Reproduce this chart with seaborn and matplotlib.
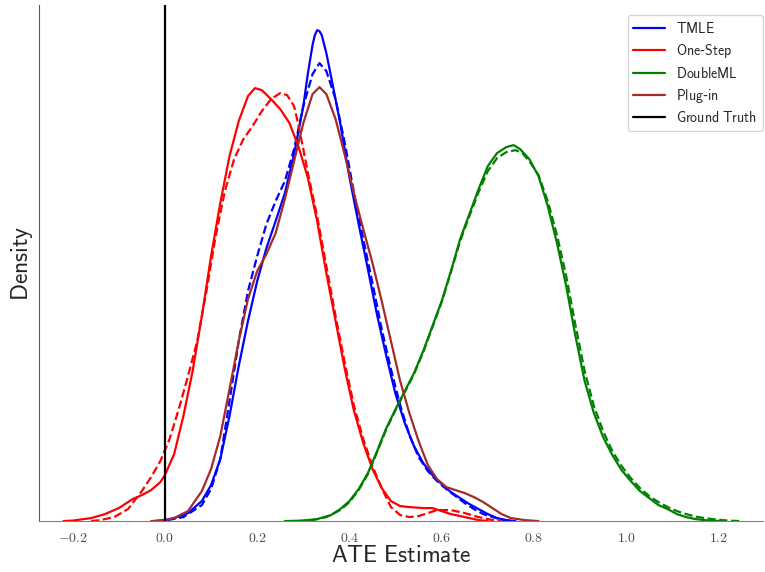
import numpy as np
import matplotlib
matplotlib.use('Agg')
import matplotlib.pyplot as plt
import seaborn as sns
from matplotlib.ticker import FuncFormatter

sns.set_style('white')
plt.rcParams['mathtext.fontset'] = 'cm'
plt.rcParams['font.family'] = ['DejaVu Sans']

# density curves (solid and dashed variant per estimator)
tmle_x = [-0.02, 0.0, 0.02, 0.05, 0.08, 0.10, 0.12, 0.14, 0.16, 0.18, 0.20, 0.22, 0.24, 0.26, 0.28,
          0.30, 0.31, 0.32, 0.325, 0.33, 0.335, 0.34, 0.35, 0.36, 0.38, 0.40, 0.42, 0.44, 0.46, 0.48,
          0.50, 0.52, 0.54, 0.56, 0.58, 0.60, 0.62, 0.64, 0.66, 0.68, 0.70, 0.72, 0.74, 0.76]
tmle_y = [0.0, 0.01, 0.03, 0.08, 0.2, 0.36, 0.62, 1.05, 1.55, 2.0, 2.4, 2.73, 3.0, 3.28, 3.67,
          4.15, 4.48, 4.76, 4.86, 4.91, 4.9, 4.86, 4.68, 4.45, 3.98, 3.44, 2.97, 2.52, 2.06, 1.65,
          1.27, 0.98, 0.75, 0.58, 0.46, 0.37, 0.29, 0.23, 0.17, 0.12, 0.07, 0.03, 0.01, 0.0]
tmle2_x = [-0.02, 0.0, 0.04, 0.08, 0.10, 0.12, 0.14, 0.16, 0.18, 0.20, 0.22, 0.24, 0.26, 0.28, 0.30,
           0.32, 0.335, 0.35, 0.37, 0.39, 0.41, 0.43, 0.45, 0.47, 0.49, 0.51, 0.53, 0.55, 0.57, 0.59,
           0.61, 0.63, 0.65, 0.67, 0.69, 0.71, 0.73, 0.75]
tmle2_y = [0.0, 0.005, 0.04, 0.16, 0.32, 0.62, 1.2, 1.8, 2.3, 2.65, 2.97, 3.2, 3.4, 3.72, 4.15,
           4.47, 4.58, 4.5, 4.22, 3.78, 3.28, 2.82, 2.38, 1.92, 1.52, 1.16, 0.86, 0.64, 0.5, 0.4,
           0.32, 0.25, 0.18, 0.12, 0.07, 0.04, 0.015, 0.0]

onestep_x = [-0.22, -0.20, -0.16, -0.13, -0.10, -0.07, -0.05, -0.03, -0.01, 0.0, 0.02, 0.04, 0.06,
             0.08, 0.10, 0.12, 0.14, 0.16, 0.18, 0.195, 0.21, 0.23, 0.25, 0.27, 0.29, 0.31, 0.33,
             0.35, 0.37, 0.39, 0.41, 0.43, 0.45, 0.47, 0.49, 0.51, 0.53, 0.56, 0.58, 0.60, 0.62,
             0.65, 0.68, 0.70]
onestep_y = [0.0, 0.005, 0.03, 0.07, 0.13, 0.22, 0.26, 0.31, 0.39, 0.46, 0.67, 1.05, 1.5,
             2.05, 2.65, 3.18, 3.65, 4.0, 4.25, 4.33, 4.31, 4.22, 4.12, 3.98, 3.74, 3.43, 3.0,
             2.48, 2.0, 1.52, 1.1, 0.78, 0.52, 0.33, 0.2, 0.15, 0.14, 0.13, 0.13, 0.1, 0.07,
             0.04, 0.01, 0.0]
onestep2_x = [-0.16, -0.14, -0.11, -0.08, -0.05, -0.03, -0.01, 0.01, 0.03, 0.05, 0.07, 0.09, 0.11,
              0.13, 0.15, 0.17, 0.19, 0.21, 0.23, 0.25, 0.265, 0.28, 0.29, 0.30, 0.31, 0.33, 0.35,
              0.37, 0.39, 0.41, 0.43, 0.45, 0.47, 0.49, 0.51, 0.53, 0.55, 0.57, 0.59, 0.62, 0.65,
              0.68, 0.71, 0.73]
onestep2_y = [0.0, 0.01, 0.04, 0.12, 0.3, 0.44, 0.6, 0.82, 1.12, 1.45, 1.8, 2.3, 2.85,
              3.3, 3.62, 3.82, 3.95, 4.1, 4.22, 4.28, 4.26, 4.15, 3.95, 3.72, 3.48, 3.05, 2.55,
              2.05, 1.58, 1.15, 0.82, 0.55, 0.33, 0.14, 0.06, 0.04, 0.05, 0.08, 0.11, 0.11, 0.08,
              0.04, 0.01, 0.0]

dml_x = [0.26, 0.30, 0.33, 0.36, 0.38, 0.40, 0.42, 0.44, 0.46, 0.48, 0.50, 0.52, 0.54, 0.56, 0.58,
         0.60, 0.62, 0.64, 0.66, 0.68, 0.70, 0.72, 0.74, 0.756, 0.77, 0.79, 0.81, 0.83, 0.85, 0.87,
         0.89, 0.91, 0.93, 0.95, 0.97, 0.99, 1.01, 1.03, 1.05, 1.07, 1.09, 1.11, 1.13, 1.15, 1.18, 1.21]
dml_y = [0.0, 0.005, 0.02, 0.06, 0.12, 0.2, 0.32, 0.48, 0.7, 0.93, 1.12, 1.3, 1.48, 1.7, 1.95,
         2.2, 2.5, 2.82, 3.07, 3.32, 3.55, 3.68, 3.74, 3.76, 3.72, 3.62, 3.45, 3.15, 2.78, 2.35,
         1.85, 1.4, 1.08, 0.84, 0.66, 0.51, 0.4, 0.3, 0.23, 0.16, 0.12, 0.07, 0.04, 0.02, 0.005, 0.0]
dml2_x = [0.29, 0.32, 0.35, 0.38, 0.40, 0.42, 0.44, 0.46, 0.48, 0.50, 0.52, 0.54, 0.56, 0.58, 0.60,
          0.62, 0.64, 0.66, 0.68, 0.70, 0.72, 0.74, 0.76, 0.775, 0.79, 0.81, 0.83, 0.85, 0.87, 0.89,
          0.91, 0.93, 0.95, 0.97, 0.99, 1.01, 1.03, 1.05, 1.07, 1.09, 1.11, 1.13, 1.15, 1.17, 1.19,
          1.21, 1.23, 1.25]
dml2_y = [0.0, 0.01, 0.04, 0.11, 0.19, 0.31, 0.47, 0.69, 0.92, 1.11, 1.29, 1.47, 1.69, 1.94, 2.19,
          2.49, 2.8, 3.05, 3.29, 3.5, 3.63, 3.69, 3.71, 3.68, 3.6, 3.46, 3.2, 2.86, 2.45, 1.96,
          1.5, 1.15, 0.9, 0.7, 0.55, 0.43, 0.33, 0.25, 0.19, 0.14, 0.1, 0.07, 0.045, 0.03, 0.018,
          0.009, 0.003, 0.0]

plugin_x = [-0.03, 0.0, 0.02, 0.05, 0.08, 0.10, 0.12, 0.14, 0.16, 0.18, 0.20, 0.22, 0.24, 0.26,
            0.28, 0.30, 0.32, 0.335, 0.35, 0.37, 0.39, 0.41, 0.43, 0.45, 0.47, 0.49, 0.51, 0.53,
            0.55, 0.57, 0.59, 0.61, 0.63, 0.65, 0.67, 0.69, 0.71, 0.73, 0.75, 0.78, 0.81]
plugin_y = [0.0, 0.01, 0.03, 0.1, 0.3, 0.52, 0.85, 1.32, 1.8, 2.22, 2.5, 2.67, 2.88, 3.22,
            3.6, 3.98, 4.27, 4.34, 4.27, 4.02, 3.66, 3.27, 2.92, 2.58, 2.2, 1.8, 1.4, 1.08,
            0.8, 0.56, 0.42, 0.34, 0.31, 0.28, 0.24, 0.19, 0.13, 0.07, 0.03, 0.01, 0.0]

ground_truth = 0.0
legend_labels = [r'$\mathsf{TMLE}$', r'$\mathsf{One}$-$\mathsf{Step}$', r'$\mathsf{DoubleML}$',
                 r'$\mathsf{Plug}$-$\mathsf{in}$', r'$\mathsf{Ground\ Truth}$']
xticks = [-0.2, 0.0, 0.2, 0.4, 0.6, 0.8, 1.0, 1.2]

fig, ax = plt.subplots(figsize=(7.65, 5.72), dpi=100)
lw = 1.6

sns.lineplot(x=tmle_x, y=tmle_y, color='blue', lw=lw, label=legend_labels[0], ax=ax)
sns.lineplot(x=tmle2_x, y=tmle2_y, color='blue', lw=lw, linestyle='--', ax=ax)
sns.lineplot(x=onestep_x, y=onestep_y, color='red', lw=lw, label=legend_labels[1], ax=ax)
sns.lineplot(x=onestep2_x, y=onestep2_y, color='red', lw=lw, linestyle='--', ax=ax)
sns.lineplot(x=dml_x, y=dml_y, color='green', lw=lw, label=legend_labels[2], ax=ax)
sns.lineplot(x=dml2_x, y=dml2_y, color='green', lw=lw, linestyle='--', ax=ax)
sns.lineplot(x=plugin_x, y=plugin_y, color='brown', lw=lw, label=legend_labels[3], ax=ax)
ax.axvline(ground_truth, color='black', lw=1.6, label=legend_labels[4])

ax.set_xlim(-0.273, 1.296)
ax.set_ylim(0, 5.16)
ax.set_yticks([])
ax.set_xticks(xticks)
ax.xaxis.set_major_formatter(FuncFormatter(lambda v, p: f'${v:.1f}$'))
ax.tick_params(axis='x', labelsize=10, labelcolor='0.3')
ax.set_xlabel(r'$\mathsf{ATE\ Estimate}$', fontsize=17, labelpad=-1)
ax.set_ylabel(r'$\mathsf{Density}$', fontsize=17, labelpad=3)

for side in ['top', 'right']:
    ax.spines[side].set_visible(False)
ax.spines['left'].set_color('0.35')
ax.spines['bottom'].set_color('0.5')

ax.legend(loc='upper right', bbox_to_anchor=(1.0, 0.98), fontsize=10, borderaxespad=0,
          frameon=True, handlelength=2.3, labelspacing=0.42)

fig.subplots_adjust(left=0.051, right=0.997, top=0.991, bottom=0.089)
fig.savefig('out.png', dpi=100)
